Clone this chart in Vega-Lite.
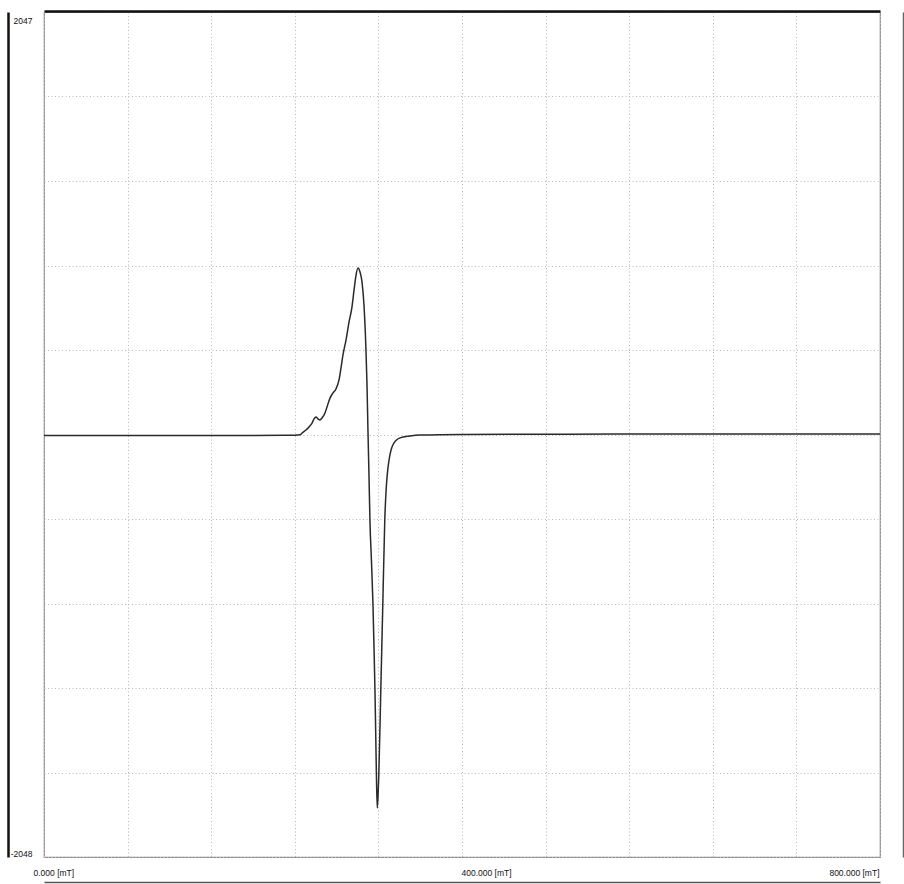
{
  "$schema": "https://vega.github.io/schema/vega-lite/v6.json",
  "width": 836,
  "height": 845,
  "autosize": {"type": "none"},
  "padding": {"left": 44, "top": 12, "right": 24, "bottom": 27},
  "background": "white",
  "config": {
    "view": {"stroke": "#8c8c8c", "strokeWidth": 1.2},
    "axis": {"labelFont": "Liberation Sans", "labelFontSize": 8.5, "labelColor": "#111", "title": null}
  },
  "data": {"values": [
    {"mT": 0, "v": -5}, {"mT": 100, "v": -5}, {"mT": 200, "v": -5}, {"mT": 240, "v": -4},
    {"mT": 245.0, "v": -2}, {"mT": 247.8, "v": 10}, {"mT": 250.7, "v": 21}, {"mT": 253.6, "v": 36},
    {"mT": 256.5, "v": 55}, {"mT": 258.4, "v": 75}, {"mT": 260.3, "v": 84}, {"mT": 262.2, "v": 75},
    {"mT": 264.1, "v": 70}, {"mT": 266.0, "v": 79}, {"mT": 268.9, "v": 104}, {"mT": 270.8, "v": 133},
    {"mT": 273.7, "v": 176}, {"mT": 276.6, "v": 201}, {"mT": 279.4, "v": 220}, {"mT": 282.3, "v": 264},
    {"mT": 284.2, "v": 322}, {"mT": 286.1, "v": 385}, {"mT": 289.0, "v": 457}, {"mT": 291.9, "v": 545},
    {"mT": 294.7, "v": 617}, {"mT": 296.7, "v": 700}, {"mT": 298.6, "v": 772}, {"mT": 300.5, "v": 806},
    {"mT": 302.4, "v": 787}, {"mT": 304.3, "v": 739}, {"mT": 306.2, "v": 627}, {"mT": 308.1, "v": 409},
    {"mT": 309.1, "v": 239}, {"mT": 310.0, "v": 21}, {"mT": 311.0, "v": -200}, {"mT": 311.9, "v": -415},
    {"mT": 313.4, "v": -620}, {"mT": 314.8, "v": -826}, {"mT": 315.8, "v": -1030}, {"mT": 316.7, "v": -1239},
    {"mT": 317.4, "v": -1440}, {"mT": 318.1, "v": -1650}, {"mT": 318.9, "v": -1810}, {"mT": 319.6, "v": -1760},
    {"mT": 320.4, "v": -1650}, {"mT": 322.3, "v": -1239}, {"mT": 324.2, "v": -826}, {"mT": 326.1, "v": -415},
    {"mT": 327.5, "v": -260}, {"mT": 329.2, "v": -160}, {"mT": 331.0, "v": -100}, {"mT": 333.0, "v": -61},
    {"mT": 336.8, "v": -30}, {"mT": 340.7, "v": -17}, {"mT": 350.2, "v": -8}, {"mT": 359.8, "v": -3},
    {"mT": 400, "v": 0}, {"mT": 500, "v": 1}, {"mT": 600, "v": 2}, {"mT": 700, "v": 2}, {"mT": 800, "v": 2}
  ]},
  "resolve": {"axis": {"x": "independent", "y": "independent"}},
  "layer": [
    {
      "mark": {"type": "line", "color": "#2a2a2a", "strokeWidth": 1.5, "interpolate": "monotone"},
      "encoding": {
        "x": {"field": "mT", "type": "quantitative", "scale": {"domain": [0, 800], "nice": false, "zero": false},
          "axis": {"orient": "bottom", "values": [0, 80, 160, 240, 320, 400, 480, 560, 640, 720, 800],
            "grid": true, "gridColor": "#b8b8b8", "gridDash": [1, 2.5], "gridWidth": 1,
            "domain": false, "ticks": false, "labelPadding": 11, "labelBaseline": "top",
            "labelExpr": "datum.value % 400 == 0 ? format(datum.value, '.3f') + ' [mT]' : ''",
            "labelAlign": {"condition": {"test": "datum.value == 800", "value": "right"}, "value": "left"},
            "labelOffset": {"condition": {"test": "datum.value == 0", "value": -11}, "value": -1},
            "labelFlush": false, "labelOverlap": false}},
        "y": {"field": "v", "type": "quantitative", "scale": {"domain": [-2048, 2047], "nice": false, "zero": false},
          "axis": {"orient": "left", "values": [-2048, -1638.5, -1229, -819.5, -410, -0.5, 409, 818.5, 1228, 1637.5, 2047],
            "grid": true, "gridColor": "#b8b8b8", "gridDash": [1, 2.5], "gridWidth": 1,
            "domain": false, "ticks": false, "labelPadding": 12,
            "labelExpr": "datum.value == 2047 ? '2047' : (datum.value == -2048 ? '-2048' : '')",
            "labelBaseline": {"condition": {"test": "datum.value == 2047", "value": "top"}, "value": "bottom"},
            "labelOffset": {"condition": {"test": "datum.value == 2047", "value": 4}, "value": 1},
            "labelFlush": false, "labelOverlap": false}}
      }
    },
    {
      "mark": {"type": "line", "opacity": 0},
      "encoding": {
        "x": {"field": "mT", "type": "quantitative",
          "axis": {"orient": "top", "offset": 1, "domainColor": "#111", "domainWidth": 2.5, "labels": false, "ticks": false, "grid": false}},
        "y": {"field": "v", "type": "quantitative",
          "axis": {"orient": "right", "offset": 23, "domainColor": "#666", "domainWidth": 1.5, "labels": false, "ticks": false, "grid": false}}
      }
    },
    {
      "mark": {"type": "line", "opacity": 0},
      "encoding": {
        "x": {"field": "mT", "type": "quantitative",
          "axis": {"orient": "bottom", "offset": 25, "domainColor": "#555", "domainWidth": 1.5, "labels": false, "ticks": false, "grid": false}},
        "y": {"field": "v", "type": "quantitative",
          "axis": {"orient": "left", "offset": 36, "domainColor": "#111", "domainWidth": 2.5, "labels": false, "ticks": false, "grid": false}}
      }
    }
  ]
}
